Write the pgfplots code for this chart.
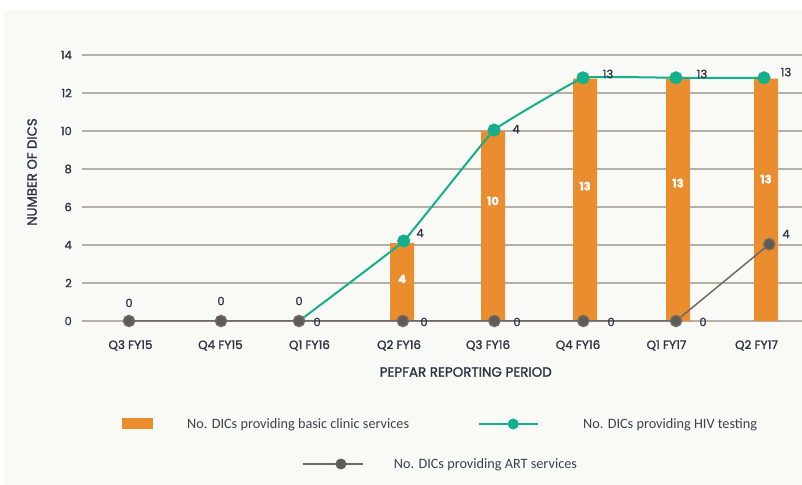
\documentclass[border=0pt]{standalone}
\usepackage{pgfplots}
\pgfplotsset{compat=1.18}
\usepackage{fontspec}
\setmainfont{Carlito}
\newfontfamily\axfont{Poppins}[RawFeature={embolden=1.5}]
\newfontfamily\legfont{Carlito}
\definecolor{bg}{HTML}{F9F9F5}
\definecolor{barorange}{HTML}{EA8D2F}
\definecolor{hivgreen}{HTML}{14AF8B}
\definecolor{artdot}{HTML}{5F5B52}
\definecolor{artline}{HTML}{6E6B66}
\definecolor{gridgrey}{HTML}{B3AFA6}
\definecolor{txt}{HTML}{2E3446}
\definecolor{legtxt}{HTML}{3D4150}
\begin{document}
\begin{tikzpicture}
\path[use as bounding box] (0,0) rectangle (802bp,485bp);
\fill[white] (0,0) rectangle (802bp,485bp);
\fill[bg] (4bp,0) rectangle (802bp,475bp);
\begin{axis}[
  scale only axis, width=720bp, height=266bp,
  at={(82bp,164bp)}, anchor=south west,
  xmin=-0.514, xmax=7.355, ymin=0, ymax=14,
  clip=false,
  axis line style={draw=none},
  major tick length=0pt,
  /pgf/number format/assume math mode=true,
  ymajorgrids, major grid style={gridgrey, line width=1.3bp},
  ytick={0,2,4,6,8,10,12,14},
  xtick={0.016,0.999,1.972,2.951,3.924,4.907,5.874,6.858},
  xticklabels={Q3 FY15,Q4 FY15,Q1 FY16,Q2 FY16,Q3 FY16,Q4 FY16,Q1 FY17,Q2 FY17},
  xticklabel style={font=\axfont\fontsize{12}{13}\selectfont, text=txt, anchor=base, inner sep=0pt, yshift=-28bp},
  yticklabel style={font=\axfont\fontsize{11.5}{12}\selectfont, text=txt, anchor=east, inner sep=0pt, xshift=-10bp},
  xlabel={PEPFAR REPORTING PERIOD},
  ylabel={NUMBER OF DICS},
  xlabel style={font=\axfont\fontsize{13.5}{14}\selectfont, text=txt, at={(axis description cs:0.533,-0.1917)}, anchor=center, inner sep=0pt},
  ylabel style={font=\axfont\fontsize{13.3}{14}\selectfont, text=txt, at={(axis description cs:-0.0694,0.560)}, anchor=center, inner sep=0pt},
  every node near coord/.style={anchor=center, inner sep=0pt, font=\axfont\fontsize{11.5}{12}\selectfont},
]
% basic clinic services (bars)
\addplot[ybar, bar width=24bp, fill=barorange, draw=none] coordinates {
  (2.984,4.1) (3.978,10) (4.984,12.75) (6.0,12.75) (6.962,12.75)};
% HIV testing
\addplot[hivgreen, line width=2bp, smooth, tension=0.12, mark=*, mark size=5.5bp,
  mark options={draw=none, fill=hivgreen}, mark indices={2,3,4,5,6}] coordinates {
  (1.858,0) (3.002,4.21) (3.989,10.05) (4.962,12.8) (5.978,12.8) (6.940,12.8)};
% ART services
\addplot[artline, line width=1.5bp, mark=*, mark size=5.5bp,
  mark options={draw=none, fill=artdot}] coordinates {
  (0,0) (1.005,0) (1.858,0) (2.993,0) (3.993,0) (4.965,0) (5.978,0) (6.997,4.04)};
% white labels inside bars
\addplot[draw=none, mark=none, nodes near coords, point meta=explicit symbolic,
  every node near coord/.append style={text=white, font=\axfont\bfseries\fontsize{11.5}{12}\selectfont}]
  table[x=x, y=y, meta=l] {
x y l
2.984 2.21 4
3.978 6.32 10
4.984 7.10 13
6.0 7.26 13
6.962 7.47 13
};
% dark labels
\addplot[draw=none, mark=none, nodes near coords, point meta=explicit symbolic,
  every node near coord/.append style={text=txt}]
  table[x=x, y=y, meta=l] {
x y l
0.0 0.95 0
1.005 1.05 0
1.858 1.05 0
2.055 -0.05 0
3.224 -0.05 0
4.240 -0.05 0
5.268 -0.05 0
6.273 -0.05 0
3.180 4.63 4
4.230 10.10 4
5.235 13.0 13
6.262 13.0 13
7.180 13.1 13
7.180 4.58 4
};
\end{axis}
% legend entries
\begin{axis}[hide axis, scale only axis, width=10bp, height=10bp,
  xmin=0, xmax=1, ymin=0, ymax=1, at={(122bp,61bp)}, anchor=west,
  legend style={at={(0,0.5)}, anchor=west, draw=none, fill=none, inner sep=0pt,
    nodes={inner sep=0pt, font=\legfont\fontsize{14.3}{15}\selectfont, text=legtxt}},
  legend cell align=left]
\addlegendimage{legend image code/.code={\fill[barorange, draw=none] (0bp,-5.5bp) rectangle (31bp,5.5bp); \path[draw=none, fill=none] (0,0) -- (65bp,0);}}
\addlegendentry{No. DICs providing basic clinic services}
\end{axis}
\begin{axis}[hide axis, scale only axis, width=10bp, height=10bp,
  xmin=0, xmax=1, ymin=0, ymax=1, at={(478bp,61bp)}, anchor=west,
  legend style={at={(0,0.5)}, anchor=west, draw=none, fill=none, inner sep=0pt,
    nodes={inner sep=0pt, font=\legfont\fontsize{14.3}{15}\selectfont, text=legtxt}},
  legend cell align=left]
\addlegendimage{legend image code/.code={\draw[hivgreen, line width=2bp] (0bp,0) -- (59bp,0); \fill[hivgreen, draw=none] (34bp,0) circle (5.5bp); \path[draw=none, fill=none] (0,0) -- (104bp,0);}}
\addlegendentry{No. DICs providing HIV testing}
\end{axis}
\begin{axis}[hide axis, scale only axis, width=10bp, height=10bp,
  xmin=0, xmax=1, ymin=0, ymax=1, at={(302bp,21bp)}, anchor=west,
  legend style={at={(0,0.5)}, anchor=west, draw=none, fill=none, inner sep=0pt,
    nodes={inner sep=0pt, font=\legfont\fontsize{14.3}{15}\selectfont, text=legtxt}},
  legend cell align=left]
\addlegendimage{legend image code/.code={\draw[artline, line width=1.5bp] (0bp,0) -- (60bp,0); \fill[artdot, draw=none] (38bp,0) circle (5.5bp); \path[draw=none, fill=none] (0,0) -- (91bp,0);}}
\addlegendentry{No. DICs providing ART services}
\end{axis}
\end{tikzpicture}
\end{document}
